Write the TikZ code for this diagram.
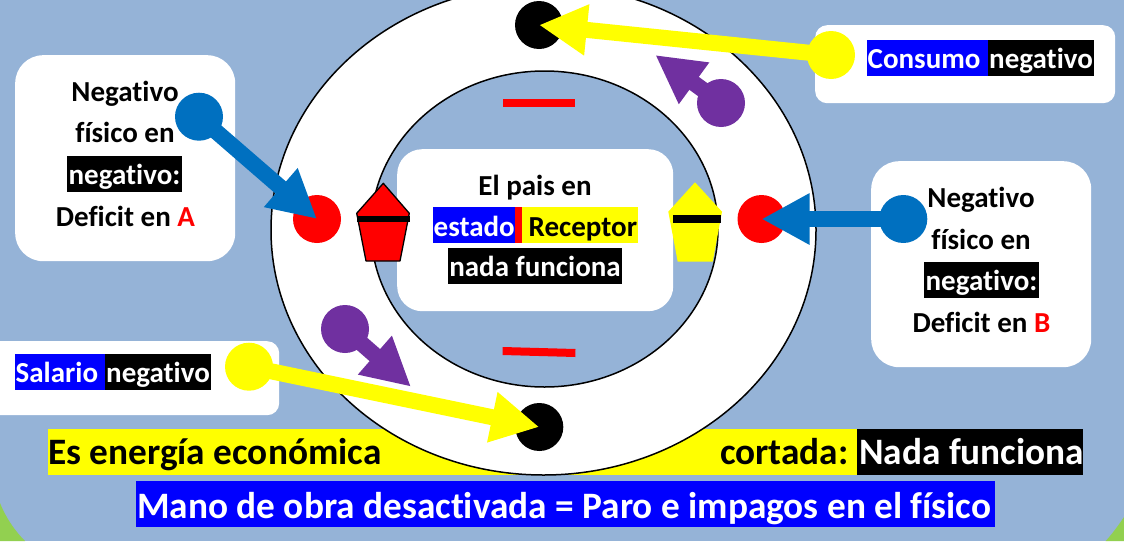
\documentclass[tikz,border=0pt]{standalone}
\usepackage{fontspec}
\setmainfont[Ligatures=NoCommon]{Carlito}
\usetikzlibrary{arrows.meta}
\definecolor{bgblue}{HTML}{95B3D7}
\definecolor{cgreen}{HTML}{92D050}
\definecolor{arrblue}{HTML}{0070C0}
\definecolor{arrpurple}{HTML}{7030A0}
\definecolor{pureblue}{HTML}{0000FF}
\definecolor{pureyellow}{HTML}{FFFF00}
\definecolor{purered}{HTML}{FF0000}
\tikzset{
  x=1pt,y=-1pt,
  panel/.style={fill=white,draw=none,rounded corners=#1,inner sep=0pt},
  dot/.style={circle,fill=#1,draw=none,minimum size=48pt,inner sep=0pt},
  conn/.style={draw=#1,line width=16pt,-{Triangle[length=48pt,width=48pt,fill=#1]}},
  txt/.style={font=\fontsize{29}{29}\selectfont\bfseries,inner sep=0pt,text=#1,yshift=-1pt},
  txt/.default=black,
  big/.style={font=\fontsize{37.3}{37.3}\selectfont\bfseries,inner sep=0pt,text=#1,yshift=-1.3pt},
  big/.default=black,
}
\newcommand{\boxat}[6]{\node[panel=#1,minimum width=#4-#2,minimum height=#5-#3,anchor=north west] (#6) at (#2,#3) {};}
\newcommand{\hl}[5]{\fill[#5] (#1,#2) rectangle (#3,#4);}
\begin{document}
\begin{tikzpicture}
\useasboundingbox (0,0) rectangle (1124,541);
\fill[bgblue] (0,0) rectangle (1124,541);
\fill[cgreen] (0,503) .. controls (6,518) and (15,531) .. (25,541) -- (0,541) -- cycle;
\fill[cgreen] (1124,517) .. controls (1118,526) and (1112,534) .. (1105.7,541) -- (1124,541) -- cycle;
% bottom banners
\hl{48}{429}{857}{475}{pureyellow}
\hl{857}{429}{1083}{475}{black}
\hl{136}{481}{995}{526.7}{pureblue}
\node[big,anchor=base west] (t1) at (48,463.3) {Es energía económica};
\node[big,anchor=base west] (t2) at (720,463.3) {cortada:};
\node[big=white,anchor=base west] (t3) at (859,463.3) {Nada funciona};
\node[big=white,anchor=base west] (t4) at (137,516.7) {Mano de obra desactivada = Paro e impagos en el físico};
% rings
\fill[white,draw=black,line width=1.5pt] (543.5,230) ellipse [x radius=272.5,y radius=245];
\fill[bgblue,draw=black,line width=1.5pt] (544.5,229) ellipse [x radius=173.5,y radius=158];
% panels
\boxat{28}{15}{55}{235}{261}{pa}
\boxat{28}{871}{161}{1091}{367}{pb}
\boxat{12}{815}{25}{1115}{103}{pc}
\boxat{12}{-30}{341}{279}{415}{pd}
\boxat{25}{397}{149}{673}{311}{pe}
% panel A text
\node[txt,anchor=base] (a1) at (125,100.7) {Negativo};
\node[txt,anchor=base] (a2) at (125,141.7) {físico en};
\hl{67}{156}{182}{192}{black}
\node[txt=white,anchor=base] (a3) at (124.5,183.3) {negativo:};
\node[txt,anchor=base west] (a4) at (55.7,225) {Deficit en \textcolor{purered}{A}};
% panel B text
\node[txt,anchor=base] (b1) at (981,206.7) {Negativo};
\node[txt,anchor=base] (b2) at (981,248.3) {físico en};
\hl{924}{262}{1039}{298}{black}
\node[txt=white,anchor=base] (b3) at (981.5,289.3) {negativo:};
\node[txt,anchor=base west] (b4) at (912.3,331) {Deficit en \textcolor{purered}{B}};
% Consumo
\hl{867}{40}{988}{76}{pureblue}
\hl{988}{40}{1094}{76}{black}
\node[txt=white,anchor=base west] (c1) at (867.5,67) {Consumo};
\node[txt=white,anchor=base west] (c2) at (989,67) {negativo};
% Salario
\hl{15}{354}{105}{390}{pureblue}
\hl{105}{354}{211}{390}{black}
\node[txt=white,anchor=base west] (d1) at (15.5,381) {Salario};
\node[txt=white,anchor=base west] (d2) at (106,381) {negativo};
% centre
\node[txt,anchor=base] (e1) at (535,194) {El pais en};
\hl{433}{207}{515}{243}{pureblue}
\hl{515}{207}{522}{243}{purered}
\hl{522}{207}{637.7}{243}{pureyellow}
\node[txt=white,anchor=base west] (e2) at (433.5,235) {estado};
\node[txt,anchor=base west] (e3) at (528.5,235) {Receptor};
\hl{448}{248}{622}{284}{black}
\node[txt=white,anchor=base] (e4) at (535,275) {nada funciona};
% red bars
\fill[purered] (502.7,99) rectangle (575,107.3);
\fill[purered] (502.7,347) -- (575.5,349) -- (575.3,357) -- (502.6,355) -- cycle;
% pentagons
\filldraw[fill=purered,draw=black,line width=1.3pt,line join=round] (383.3,183.3) -- (409.3,213.3) -- (400,261) -- (366,261) -- (356.7,213.3) -- cycle;
\fill[black] (356.7,216) rectangle (409.5,222);
\fill[pureyellow] (695,182.3) -- (722,211.7) -- (712.7,261.7) -- (677.7,261.7) -- (668.3,211.7) -- cycle;
\fill[black] (673,215) rectangle (721,222.7);
% dots
\node[dot=purered] (ra) at (317,219) {};
\node[dot=purered] (rb) at (761.5,219) {};
\node[dot=black] (kt) at (539,25) {};
\node[dot=black] (kb) at (539.3,427) {};
\node[dot=arrblue] (ba) at (199,116.7) {};
\node[dot=arrblue] (bb) at (903.3,219) {};
\node[dot=pureyellow] (yt) at (831,55) {};
\node[dot=pureyellow] (yb) at (249,366.7) {};
\node[dot=arrpurple] (pt) at (721,103) {};
\node[dot=arrpurple] (pb2) at (345,329) {};
\coordinate (ptt) at (655.3,55);
\coordinate (pbt) at (411,386.7);
% connectors
\draw[conn=arrblue] (ba.center) -- (ra.center);
\draw[conn=arrblue] (bb.center) -- (rb.center);
\draw[conn=pureyellow] (yt.center) -- (kt.center);
\draw[conn=pureyellow] (yb.center) -- (kb.center);
\draw[conn=arrpurple] (pt.center) -- (ptt);
\draw[conn=arrpurple] (pb2.center) -- (pbt);
\end{tikzpicture}
\end{document}
